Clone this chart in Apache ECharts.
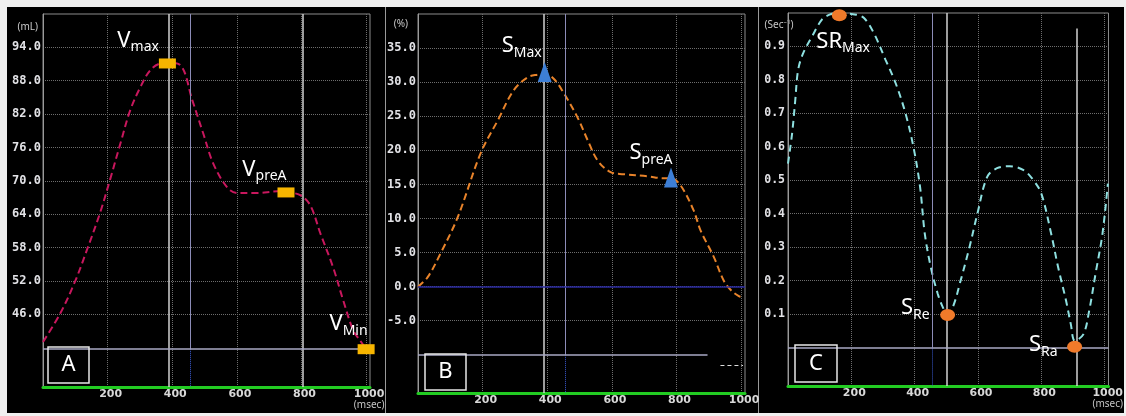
<!DOCTYPE html>
<html><head><meta charset="utf-8">
<script src="https://cdn.jsdelivr.net/npm/echarts@6/dist/echarts.min.js"></script>
<style>
html,body{margin:0;padding:0;background:#f0f0f0;}
.panel{position:absolute;top:7px;height:406px;background:#000;}
.sep{position:absolute;top:7px;height:406px;width:1px;background:#9a9a9a;}
#c{position:absolute;left:0;top:0;width:1126px;height:416px;}
</style>
</head><body>
<div class="panel" style="left:7px;width:378px"></div>
<div class="sep" style="left:385px"></div>
<div class="panel" style="left:386px;width:372px"></div>
<div class="sep" style="left:758px"></div>
<div class="panel" style="left:759px;width:365px"></div>
<div id="c"></div>
<script>
// ---------- data ----------
const xTicks = [200, 400, 600, 800, 1000];
const volTicks = [46, 52, 58, 64, 70, 76, 82, 88, 94];
const strainTicks = [-5, 0, 5, 10, 15, 20, 25, 30, 35];
const srTicks = [0.1, 0.2, 0.3, 0.4, 0.5, 0.6, 0.7, 0.8, 0.9];

const volTime  = [0, 54, 100, 140, 177, 208, 240, 270, 301, 332, 363, 385, 425, 462, 496, 527, 570, 601, 663, 725, 752, 796, 827, 858, 898, 929, 960, 981, 1000];
const volValue = [41.0, 46.2, 52.0, 58.2, 64.3, 70.3, 76.8, 82.7, 86.8, 89.9, 91.1, 91.2, 90.8, 84.5, 78.5, 73.1, 68.8, 67.8, 67.8, 68.1, 68.0, 67.4, 65.6, 60.6, 54.4, 48.5, 43.1, 41.3, 39.7];
const volMarkTime  = [385, 752, 1000];
const volMarkValue = [91.1, 67.9, 39.7];
const volMarkMain  = ['V', 'V', 'V'];
const volMarkSub   = ['max', 'preA', 'Min'];
const volRefWhite  = [390, 804];
const volRefBlue   = 455;
const volBaseline  = 39.7;

const strainTime  = [0, 30, 70, 123, 194, 247, 296, 339, 370, 392, 420, 451, 494, 525, 556, 596, 636, 710, 760, 783, 812, 853, 874, 915, 946, 968, 993, 1001];
const strainValue = [0, 1.4, 4.9, 10.2, 19.6, 24.4, 28.8, 30.7, 31.1, 31.2, 30.5, 28.4, 24.8, 21.5, 18.5, 16.8, 16.5, 16.2, 15.9, 15.9, 14.9, 11.2, 8.3, 4.4, 0.9, -0.5, -1.4, -1.5];
const strainMarkTime  = [392, 783];
const strainMarkValue = [31.5, 16.0];
const strainMarkMain  = ['S', 'S'];
const strainMarkSub   = ['Max', 'preA'];
const strainRefWhite  = [389];
const strainRefBlue   = 456;
const strainBaseline  = -10;
const strainBaselineEnd = 896;

const srTime  = [0, 13, 23, 32, 48, 76, 107, 131, 160, 215, 240, 271, 308, 340, 371, 396, 417, 432, 451, 473, 489, 501, 520, 545, 573, 598, 629, 660, 700, 744, 775, 800, 831, 853, 878, 893, 906, 933, 951, 971, 993, 1010];
const srValue = [0.55, 0.64, 0.74, 0.83, 0.88, 0.93, 0.98, 0.995, 1.0, 0.995, 0.985, 0.94, 0.86, 0.79, 0.70, 0.60, 0.48, 0.34, 0.24, 0.16, 0.12, 0.10, 0.12, 0.20, 0.30, 0.40, 0.51, 0.536, 0.542, 0.53, 0.50, 0.46, 0.34, 0.24, 0.14, 0.07, 0.02, 0.04, 0.11, 0.22, 0.34, 0.49];
const srMarkTime  = [162, 504, 905];
const srMarkValue = [0.993, 0.097, 0.002];
const srMarkMain  = ['SR', 'S', 'S'];
const srMarkSub   = ['Max', 'Re', 'Ra'];
const srRefWhite  = [501];
const srRefWhiteTop = [912, 0.954];
const srRefBlue   = 455;
const srBaseline  = 0;

// ---------- styles ----------
const LBL_FONT = 'Noto Sans';
const WHITE_LINE = {color: '#d2d2d2', width: 1.5, type: 'solid'};
const LAV_LINE = {color: '#8c8cb8', width: 1, type: 'solid'};
const BLUE_DOT = {color: '#3a5ad0', width: 1, type: 'dotted'};
const BASE_LINE = {color: '#a8a8c4', width: 1.5, type: 'solid'};

const chart = echarts.init(document.getElementById('c'), null, {renderer: 'canvas'});

function xAxisCfg(i, showMsec) {
  return {
    gridIndex: i, type: 'value', min: 0, max: 1012,
    axisLine: {show: true, onZero: false, lineStyle: {color: '#22cc22', width: 3}},
    axisTick: {show: false, customValues: xTicks},
    axisLabel: {
      customValues: xTicks, margin: 1, padding: [0, 0, 0, 6],
      formatter: v => (v === 1000 && showMsec) ? '{n|1000}\n{u|(msec)}' : '{n|' + v + '}',
      rich: {
        n: {fontFamily: 'DejaVu Sans', fontWeight: 'bold', fontSize: 11, lineHeight: 12, color: '#d8d8d8'},
        u: {fontFamily: LBL_FONT, fontSize: 10, lineHeight: 10, color: '#c4c4c4', padding: [0, 0, 0, 0]}
      }
    },
    splitLine: {show: true, lineStyle: {color: '#6e6e6e', type: 'dotted', width: 1}}
  };
}
function yAxisCfg(i, min, max, ticks, digits, name, gap, pad, align, labelSize, margin) {
  return {
    gridIndex: i, type: 'value', min: min, max: max,
    name: name, nameLocation: 'end', nameGap: gap,
    nameTextStyle: {color: '#c8c8c8', fontSize: 10, fontFamily: LBL_FONT, align: align, padding: pad},
    axisLine: {show: true, onZero: false, lineStyle: {color: '#9a9a9a', width: 1}},
    axisTick: {show: false, customValues: ticks},
    axisLabel: {
      customValues: ticks, margin: margin,
      fontFamily: 'DejaVu Sans Mono', fontWeight: 'bold', fontSize: labelSize, color: '#e2e2e6',
      formatter: v => v.toFixed(digits)
    },
    splitLine: {show: true, lineStyle: {color: '#6e6e6e', type: 'dotted', width: 1}}
  };
}
function pairs(xs, ys) { return xs.map((x, k) => [x, ys[k]]); }
function subLabel(align, dx, dy) {
  return {
    show: true, position: 'inside', align: align, verticalAlign: 'top', offset: [dx, dy],
    rich: {
      m: {fontFamily: LBL_FONT, fontSize: 22, lineHeight: 24, color: '#ffffff', verticalAlign: 'top'},
      s: {fontFamily: LBL_FONT, fontSize: 14, lineHeight: 14, color: '#ffffff', verticalAlign: 'top', padding: [11, 0, 0, 0]}
    }
  };
}
function markers(i, ts, vs, mains, subs, symbol, size, color, placements, z) {
  return {
    type: 'scatter', xAxisIndex: i, yAxisIndex: i, z: 5, silent: true,
    symbol: symbol, symbolSize: size,
    itemStyle: {color: color, opacity: 1},
    data: ts.map((t, k) => ({
      value: [t, vs[k]],
      label: Object.assign(subLabel(placements[k][0], placements[k][1], placements[k][2]),
                           {formatter: '{m|' + mains[k] + '}{s|' + subs[k] + '}'})
    }))
  };
}
function curve(i, ts, vs, color, dash) {
  return {type: 'line', xAxisIndex: i, yAxisIndex: i, data: pairs(ts, vs), smooth: 0.35,
          showSymbol: false, silent: true, z: 3,
          lineStyle: {color: color, width: 2, type: dash}};
}
function refLines(i, whites, blueX, yTop, base, yBottom, baseEnd, extra) {
  const d = [];
  whites.forEach(x => d.push({xAxis: x, lineStyle: WHITE_LINE}));
  d.push([{coord: [blueX, yTop], lineStyle: LAV_LINE}, {coord: [blueX, base]}]);
  d.push([{coord: [blueX, base], lineStyle: BLUE_DOT}, {coord: [blueX, yBottom]}]);
  d.push([{coord: [0, base], lineStyle: BASE_LINE}, {coord: [baseEnd, base]}]);
  (extra || []).forEach(e => d.push(e));
  return {type: 'line', xAxisIndex: i, yAxisIndex: i, data: [], silent: true, z: 2,
          markLine: {silent: true, symbol: ['none', 'none'], label: {show: false}, animation: false, data: d}};
}

const A_Y = [32.9, 100], B_Y = [-15.6, 40], C_Y = [-0.115, 1.0];

const option = {
  animation: false,
  backgroundColor: 'transparent',
  grid: [
    {left: 43, top: 14, width: 327, height: 373, show: true, borderColor: '#8c8c8c', borderWidth: 1, backgroundColor: 'transparent'},
    {left: 418, top: 14, width: 327, height: 379, show: true, borderColor: '#8c8c8c', borderWidth: 1, backgroundColor: 'transparent'},
    {left: 788, top: 13, width: 326, height: 373, show: true, borderColor: '#8c8c8c', borderWidth: 1, backgroundColor: 'transparent'}
  ],
  xAxis: [xAxisCfg(0, true), xAxisCfg(1, false), xAxisCfg(2, true)],
  yAxis: [
    yAxisCfg(0, A_Y[0], A_Y[1], volTicks, 1, '(mL)', -18, [0, 5, 0, 0], 'right', 12, 2),
    yAxisCfg(1, B_Y[0], B_Y[1], strainTicks, 1, '(%)', -15, [0, 10, 0, 0], 'right', 12, 2),
    yAxisCfg(2, C_Y[0], C_Y[1], srTicks, 1, '(Sec\u207B\u00B9)', -17, [0, 18, 0, 0], 'center', 11.5, 3)
  ],
  series: [
    refLines(0, volRefWhite, volRefBlue, A_Y[1], volBaseline, A_Y[0], 1012),
    refLines(1, strainRefWhite, strainRefBlue, B_Y[1], strainBaseline, B_Y[0], strainBaselineEnd, [
      {yAxis: 0, lineStyle: {color: '#2a2aa0', width: 1.5, type: 'solid'}},
      [{coord: [936, -11.5], lineStyle: {color: '#dddddd', width: 1, type: [4, 3]}}, {coord: [1006, -11.5]}]
    ]),
    refLines(2, srRefWhite, srRefBlue, C_Y[1], srBaseline, C_Y[0], 1012, [
      [{coord: [srRefWhiteTop[0], srRefWhiteTop[1]], lineStyle: WHITE_LINE}, {coord: [srRefWhiteTop[0], C_Y[0]]}]
    ]),
    curve(0, volTime, volValue, '#c8175d', [7, 4]),
    curve(1, strainTime, strainValue, '#e8832a', [7, 4]),
    curve(2, srTime, srValue, '#8ee0e0', [7, 5]),
    markers(0, volMarkTime, volMarkValue, volMarkMain, volMarkSub, 'rect', [17, 10], '#f7b500',
            [['right', -8.5, -34], ['right', 0.5, -34], ['right', 1.5, -36]]),
    markers(1, strainMarkTime, strainMarkValue, strainMarkMain, strainMarkSub, 'triangle', [14, 20], '#3d7fd6',
            [['right', -3, -37], ['right', 1.5, -36]]),
    markers(2, srMarkTime, srMarkValue, srMarkMain, srMarkSub, 'circle', [15, 12], '#f07a2a',
            [['left', -23, 15], ['right', -18, -18], ['right', -17, -13]])
  ],
  graphic: [
    {type: 'rect', shape: {x: 48, y: 347, width: 41, height: 36}, style: {fill: 'transparent', stroke: '#e8e8e8', lineWidth: 1.5}, z: 100},
    {type: 'text', x: 68.5, y: 365, style: {text: 'A', fill: '#ffffff', font: '22px "Noto Sans"', align: 'center', verticalAlign: 'middle'}, z: 100},
    {type: 'rect', shape: {x: 425, y: 354, width: 41, height: 36}, style: {fill: 'transparent', stroke: '#e8e8e8', lineWidth: 1.5}, z: 100},
    {type: 'text', x: 445.5, y: 372, style: {text: 'B', fill: '#ffffff', font: '22px "Noto Sans"', align: 'center', verticalAlign: 'middle'}, z: 100},
    {type: 'rect', shape: {x: 795, y: 345, width: 42, height: 37}, style: {fill: 'transparent', stroke: '#e8e8e8', lineWidth: 1.5}, z: 100},
    {type: 'text', x: 816, y: 363.5, style: {text: 'C', fill: '#ffffff', font: '22px "Noto Sans"', align: 'center', verticalAlign: 'middle'}, z: 100}
  ]
};
chart.setOption(option);
</script>
</body></html>
